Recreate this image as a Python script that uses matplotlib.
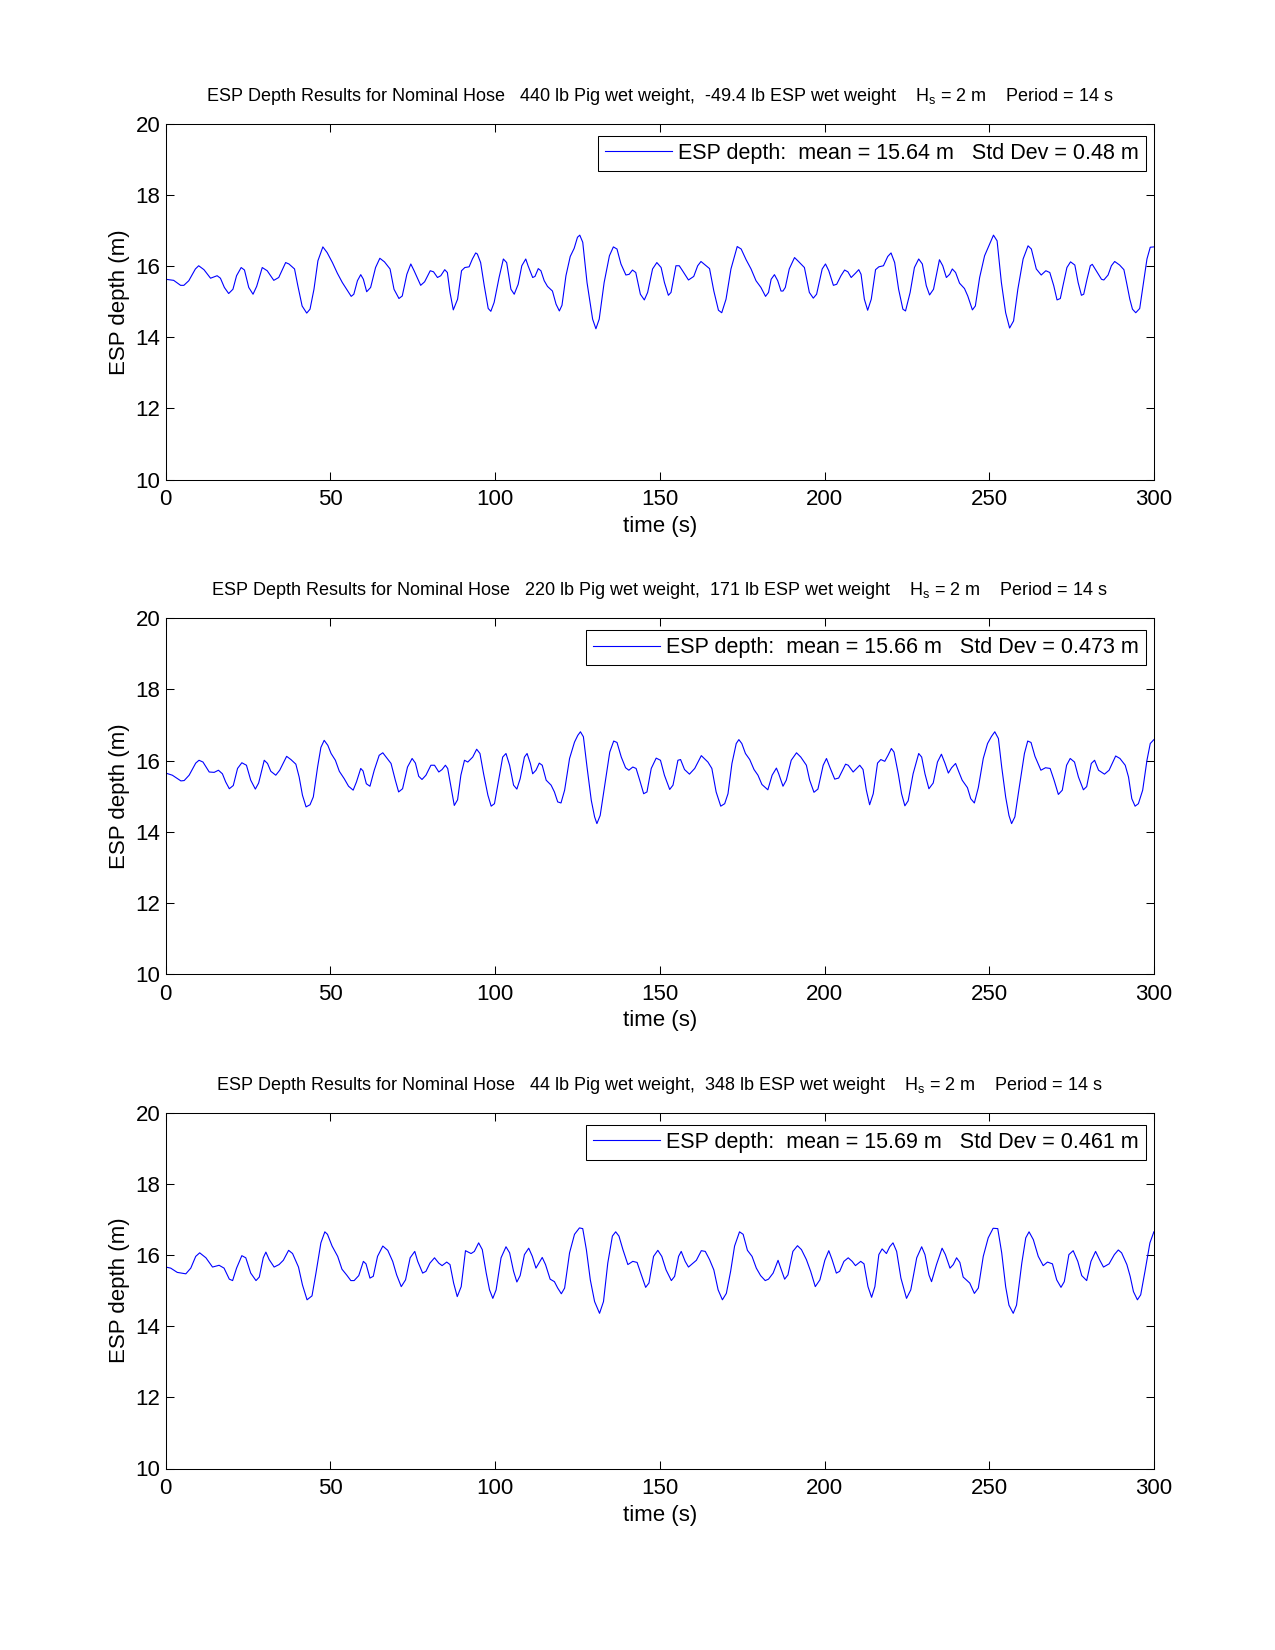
import matplotlib
matplotlib.use("Agg")
import matplotlib.pyplot as plt
import numpy as np

plt.rcParams["font.family"] = "Liberation Sans"
plt.rcParams["mathtext.fontset"] = "custom"
plt.rcParams["mathtext.rm"] = "Liberation Sans"
plt.rcParams["axes.linewidth"] = 0.75

# ---- data: time (s), ESP depth (m) ----
t1 = [0, 2.4, 4.5, 5.5, 7.0, 9.0, 10.0, 11.6, 13.6, 15.6, 16.6, 17.8, 19.1, 20.4, 21.5, 22.9, 23.9,
      25.2, 26.5, 27.6, 29.3, 30.8, 32.8, 34.3, 36.4, 37.4, 39.1, 40.1, 41.4, 42.8, 43.8, 45.0, 46.2,
      47.7, 49.0, 50.6, 52.1, 53.6, 54.9, 56.3, 57.1, 58.2, 59.2, 60.0, 61.0, 62.2, 63.7, 65.0, 66.4,
      68.1, 69.3, 70.8, 71.8, 73.2, 74.4, 75.4, 77.4, 78.6, 80.3, 81.3, 82.5, 83.5, 84.7, 85.5, 86.3,
      87.3, 88.6, 89.8, 90.8, 92.1, 93.1, 94.1, 94.6, 95.6, 96.7, 97.9, 98.7, 99.7, 101.2, 102.5, 103.5,
      104.8, 105.8, 107.0, 108.1, 109.3, 110.0, 111.4, 112.1, 113.1, 113.9, 114.9, 115.9, 117.4, 118.5,
      119.5, 120.3, 121.5, 122.8, 124.0, 125.0, 125.7, 126.6, 127.9, 129.6, 130.6, 131.6, 133.1, 134.7,
      135.9, 137.0, 138.2, 139.7, 140.7, 141.7, 142.7, 144.1, 145.3, 146.3, 147.8, 149.1, 150.4, 151.4,
      152.6, 153.4, 154.9, 155.9, 156.9, 158.7, 160.3, 161.5, 162.5, 165.1, 166.4, 167.8, 168.8, 170.1,
      171.6, 173.5, 174.7, 176.2, 177.7, 179.2, 180.7, 182.1, 183.0, 183.8, 184.8, 185.8, 186.8, 187.4,
      188.1, 189.3, 190.9, 191.9, 193.9, 195.4, 196.6, 197.6, 199.3, 200.3, 201.3, 202.7, 203.7, 205.0,
      206.1, 207.1, 208.1, 209.4, 210.4, 211.1, 212.1, 213.1, 214.2, 215.5, 216.5, 217.9, 219.2, 220.2,
      221.3, 222.5, 223.8, 224.6, 226.0, 227.3, 228.6, 229.7, 230.9, 231.9, 233.1, 234.9, 235.9, 237.0,
      238.0, 238.8, 239.8, 241.0, 242.5, 243.5, 244.9, 245.8, 247.1, 248.6, 249.9, 251.3, 252.4, 253.7,
      255.0, 256.2, 257.4, 258.7, 260.3, 261.8, 262.8, 264.3, 265.8, 267.2, 268.4, 269.6, 270.6, 271.6,
      272.4, 273.6, 274.7, 276.0, 277.0, 278.0, 278.7, 279.7, 280.7, 281.3, 282.5, 284.1, 284.8, 286.1,
      287.1, 288.1, 289.6, 290.9, 291.7, 292.7, 293.5, 294.5, 295.7, 296.7, 297.9, 298.9, 300]
d1 = [15.63, 15.60, 15.46, 15.46, 15.59, 15.92, 16.01, 15.90, 15.66, 15.73, 15.66, 15.40, 15.23, 15.35,
      15.73, 15.96, 15.89, 15.40, 15.21, 15.43, 15.96, 15.87, 15.60, 15.68, 16.10, 16.06, 15.92, 15.45,
      14.88, 14.68, 14.79, 15.35, 16.15, 16.54, 16.38, 16.10, 15.80, 15.54, 15.35, 15.15, 15.21, 15.59,
      15.76, 15.63, 15.28, 15.40, 15.96, 16.22, 16.12, 15.92, 15.35, 15.09, 15.16, 15.77, 16.06, 15.87,
      15.46, 15.56, 15.87, 15.84, 15.68, 15.73, 15.90, 15.82, 15.26, 14.77, 15.07, 15.87, 15.96, 15.98,
      16.20, 16.37, 16.34, 16.10, 15.45, 14.81, 14.73, 14.98, 15.68, 16.20, 16.10, 15.35, 15.21, 15.49,
      16.01, 16.20, 16.01, 15.68, 15.71, 15.93, 15.87, 15.59, 15.43, 15.30, 14.93, 14.74, 14.90, 15.73,
      16.27, 16.50, 16.81, 16.87, 16.67, 15.54, 14.51, 14.24, 14.51, 15.54, 16.29, 16.54, 16.48, 16.06,
      15.75, 15.77, 15.89, 15.82, 15.21, 15.05, 15.26, 15.92, 16.10, 15.96, 15.54, 15.18, 15.26, 16.01,
      16.01, 15.87, 15.61, 15.71, 16.01, 16.13, 15.93, 15.30, 14.76, 14.69, 15.07, 15.92, 16.55, 16.48,
      16.18, 15.92, 15.59, 15.40, 15.15, 15.26, 15.63, 15.76, 15.59, 15.30, 15.30, 15.40, 15.92, 16.24,
      16.15, 15.96, 15.26, 15.10, 15.21, 15.92, 16.06, 15.87, 15.46, 15.49, 15.73, 15.89, 15.84, 15.68,
      15.80, 15.90, 15.77, 15.07, 14.76, 15.07, 15.90, 15.98, 16.01, 16.27, 16.37, 16.10, 15.35, 14.79,
      14.74, 15.26, 15.96, 16.20, 16.06, 15.45, 15.19, 15.35, 16.18, 16.01, 15.68, 15.77, 15.92, 15.82,
      15.52, 15.37, 15.16, 14.77, 14.88, 15.68, 16.29, 16.57, 16.87, 16.71, 15.54, 14.69, 14.26, 14.46,
      15.35, 16.20, 16.57, 16.48, 15.92, 15.75, 15.87, 15.82, 15.45, 15.05, 15.09, 15.45, 15.96, 16.12,
      16.03, 15.54, 15.18, 15.21, 15.63, 16.01, 16.05, 15.87, 15.63, 15.61, 15.75, 16.01, 16.13, 16.03,
      15.90, 15.54, 15.07, 14.79, 14.69, 14.81, 15.45, 16.20, 16.53, 16.54]

t2 = [0, 2.0, 4.6, 5.6, 7.1, 9.1, 10.1, 11.3, 13.2, 14.7, 16.0, 17.2, 18.2, 19.3, 20.5, 21.8, 23.1,
      24.5, 25.8, 27.2, 28.2, 29.9, 30.9, 31.9, 33.4, 34.6, 36.7, 38.0, 39.5, 40.5, 41.5, 42.6, 43.8,
      44.8, 46.1, 47.1, 48.1, 49.2, 50.2, 51.5, 52.7, 54.2, 55.5, 56.9, 57.9, 59.2, 59.9, 60.9, 62.0,
      63.3, 64.8, 65.9, 66.9, 68.4, 69.7, 70.7, 71.9, 73.4, 74.8, 75.8, 76.8, 77.8, 79.0, 80.5, 81.6,
      82.9, 83.9, 84.9, 85.6, 86.6, 87.6, 88.6, 89.6, 90.7, 91.7, 93.2, 94.4, 95.4, 96.5, 97.8, 98.8,
      99.8, 100.8, 102.3, 103.3, 104.4, 105.6, 106.6, 107.6, 108.9, 109.7, 110.7, 111.4, 112.4, 113.4,
      114.3, 115.5, 117.0, 118.0, 119.0, 120.0, 121.1, 122.6, 124.1, 125.1, 125.9, 126.8, 127.9, 129.2,
      130.2, 130.9, 131.9, 133.2, 134.8, 136.0, 137.0, 138.3, 139.6, 140.6, 141.8, 142.8, 143.9, 145.1,
      146.1, 147.4, 148.9, 150.2, 151.4, 153.0, 154.0, 155.5, 156.3, 157.5, 159.0, 160.6, 162.6, 164.6,
      165.8, 167.1, 168.5, 169.7, 170.7, 171.9, 173.2, 174.0, 174.9, 176.0, 177.3, 178.6, 179.8, 181.0,
      182.8, 184.1, 185.4, 186.1, 187.4, 188.4, 189.9, 191.5, 192.8, 194.5, 195.5, 196.8, 198.0, 199.6,
      200.6, 201.6, 203.1, 204.3, 206.4, 207.2, 208.7, 210.7, 211.7, 212.7, 213.7, 214.8, 216.1, 217.1,
      218.3, 219.3, 220.3, 221.1, 222.4, 223.4, 224.4, 225.4, 226.9, 228.6, 229.5, 230.5, 231.7, 233.0,
      234.3, 235.5, 236.6, 237.6, 238.6, 239.8, 240.8, 241.8, 243.4, 244.4, 245.5, 246.7, 248.2, 249.5,
      250.7, 251.7, 252.8, 253.8, 255.0, 256.0, 256.8, 257.8, 259.0, 260.7, 261.7, 262.7, 263.9, 265.7,
      267.1, 268.5, 269.7, 271.0, 272.2, 273.5, 274.6, 275.9, 277.1, 278.6, 279.6, 281.0, 282.0, 283.2,
      285.0, 286.4, 288.4, 289.7, 291.3, 292.3, 293.3, 294.3, 295.3, 296.6, 297.9, 298.9, 300]
d2 = [15.65, 15.59, 15.43, 15.44, 15.59, 15.93, 16.01, 15.96, 15.68, 15.67, 15.73, 15.63, 15.40, 15.21,
      15.30, 15.78, 15.94, 15.87, 15.45, 15.20, 15.37, 16.01, 15.92, 15.70, 15.59, 15.73, 16.12, 16.03,
      15.90, 15.54, 15.03, 14.70, 14.76, 14.98, 15.82, 16.37, 16.57, 16.43, 16.20, 16.01, 15.70, 15.49,
      15.28, 15.17, 15.40, 15.78, 15.71, 15.35, 15.28, 15.73, 16.15, 16.22, 16.10, 15.92, 15.45, 15.12,
      15.21, 15.82, 16.06, 15.93, 15.56, 15.47, 15.59, 15.87, 15.87, 15.68, 15.75, 15.87, 15.78, 15.26,
      14.74, 14.90, 15.59, 16.01, 15.96, 16.10, 16.32, 16.20, 15.63, 15.03, 14.72, 14.79, 15.31, 16.10,
      16.20, 15.87, 15.31, 15.20, 15.49, 16.10, 16.20, 15.92, 15.63, 15.73, 15.93, 15.87, 15.45, 15.31,
      15.12, 14.84, 14.81, 15.17, 16.06, 16.52, 16.71, 16.81, 16.67, 15.82, 14.88, 14.42, 14.23, 14.46,
      15.26, 16.24, 16.55, 16.51, 16.10, 15.80, 15.73, 15.82, 15.78, 15.45, 15.07, 15.12, 15.78, 16.07,
      16.01, 15.59, 15.19, 15.31, 16.01, 16.03, 15.75, 15.62, 15.78, 16.14, 15.96, 15.78, 15.12, 14.72,
      14.79, 15.07, 15.92, 16.48, 16.59, 16.48, 16.20, 16.03, 15.75, 15.59, 15.33, 15.18, 15.59, 15.79,
      15.63, 15.28, 15.45, 16.01, 16.22, 16.10, 15.87, 15.45, 15.11, 15.20, 15.87, 16.06, 15.82, 15.48,
      15.51, 15.90, 15.87, 15.68, 15.87, 15.75, 15.17, 14.76, 15.07, 15.93, 16.03, 15.98, 16.15, 16.34,
      16.24, 15.63, 15.07, 14.73, 14.87, 15.63, 16.20, 16.10, 15.63, 15.21, 15.37, 15.96, 16.18, 15.92,
      15.65, 15.80, 15.92, 15.68, 15.45, 15.24, 14.93, 14.81, 15.24, 16.06, 16.48, 16.68, 16.81, 16.62,
      15.82, 14.98, 14.46, 14.23, 14.42, 15.17, 16.20, 16.55, 16.51, 16.12, 15.73, 15.80, 15.78, 15.45,
      15.05, 15.17, 15.87, 16.06, 15.96, 15.54, 15.18, 15.27, 15.92, 16.01, 15.73, 15.62, 15.73, 16.13,
      16.06, 15.87, 15.54, 14.93, 14.72, 14.79, 15.17, 16.01, 16.48, 16.59]

t3 = [0, 1.5, 3.5, 6.1, 7.6, 9.1, 10.3, 12.2, 14.2, 16.2, 17.7, 19.3, 20.3, 21.5, 23.1, 24.3, 25.8,
      27.4, 28.4, 29.6, 30.4, 31.4, 32.9, 34.4, 35.7, 37.3, 38.5, 40.3, 41.5, 42.9, 44.4, 45.6, 47.1,
      48.3, 49.1, 50.5, 52.2, 53.5, 54.9, 56.2, 57.2, 58.6, 60.0, 60.8, 62.0, 63.0, 64.3, 65.9, 67.4,
      68.9, 70.1, 71.5, 72.8, 74.2, 75.6, 76.5, 78.0, 79.0, 80.2, 81.6, 82.9, 83.9, 85.3, 86.3, 87.4,
      88.5, 89.7, 91.0, 92.7, 93.7, 95.0, 96.1, 97.3, 98.3, 99.3, 100.3, 101.8, 103.3, 104.4, 105.6,
      106.6, 107.6, 108.9, 110.2, 111.3, 112.4, 113.3, 114.3, 115.3, 116.7, 118.0, 119.0, 120.1, 121.1,
      122.6, 124.1, 125.6, 126.6, 127.7, 128.9, 130.2, 131.7, 132.9, 134.2, 135.6, 136.6, 137.6, 138.8,
      140.3, 141.8, 143.1, 144.4, 145.7, 146.7, 148.1, 149.4, 150.6, 151.9, 153.5, 154.5, 155.7, 156.5,
      157.7, 158.7, 161.1, 162.6, 163.8, 165.1, 166.4, 167.7, 169.0, 170.2, 171.5, 172.7, 174.2, 175.3,
      176.6, 178.0, 179.3, 180.6, 182.0, 183.0, 184.4, 185.9, 186.9, 187.9, 188.9, 190.4, 191.8, 193.0,
      194.5, 195.8, 197.2, 198.6, 200.1, 201.3, 202.3, 203.6, 204.6, 205.9, 207.2, 208.4, 209.4, 211.0,
      212.0, 213.2, 214.3, 215.3, 216.5, 217.5, 218.8, 219.8, 220.8, 221.9, 223.2, 224.9, 226.2, 228.0,
      229.5, 230.5, 231.7, 232.5, 234.0, 235.7, 236.7, 238.1, 239.1, 240.1, 241.1, 242.1, 244.1, 245.5,
      246.7, 248.2, 249.7, 251.2, 252.6, 253.8, 255.0, 256.0, 257.3, 258.3, 259.9, 261.1, 262.1, 263.4,
      264.9, 266.4, 267.7, 269.2, 270.5, 271.8, 272.8, 274.2, 275.5, 276.9, 278.1, 279.6, 280.9, 282.3,
      283.6, 284.7, 286.4, 288.0, 289.2, 290.2, 291.8, 292.8, 293.8, 295.0, 296.0, 297.3, 298.8, 300]
d3 = [15.66, 15.63, 15.51, 15.47, 15.63, 15.96, 16.06, 15.92, 15.66, 15.71, 15.63, 15.32, 15.28, 15.63,
      15.98, 15.92, 15.49, 15.28, 15.38, 15.92, 16.08, 15.87, 15.66, 15.73, 15.85, 16.13, 16.04, 15.66,
      15.16, 14.74, 14.85, 15.49, 16.34, 16.65, 16.58, 16.25, 15.96, 15.60, 15.44, 15.28, 15.28, 15.42,
      15.82, 15.75, 15.35, 15.40, 15.96, 16.25, 16.13, 15.82, 15.44, 15.11, 15.30, 15.92, 16.10, 15.82,
      15.49, 15.54, 15.77, 15.92, 15.77, 15.70, 15.80, 15.73, 15.21, 14.83, 15.11, 16.12, 16.04, 16.10,
      16.34, 16.15, 15.49, 15.02, 14.78, 15.02, 15.92, 16.23, 16.06, 15.54, 15.24, 15.42, 16.01, 16.19,
      15.96, 15.63, 15.77, 15.93, 15.73, 15.32, 15.25, 15.07, 14.91, 15.07, 16.06, 16.58, 16.76, 16.74,
      16.15, 15.30, 14.69, 14.36, 14.69, 15.77, 16.53, 16.65, 16.53, 16.15, 15.73, 15.82, 15.79, 15.44,
      15.09, 15.21, 15.96, 16.13, 15.96, 15.58, 15.28, 15.40, 15.96, 16.10, 15.82, 15.66, 15.85, 16.12,
      16.10, 15.87, 15.58, 15.02, 14.74, 14.92, 15.54, 16.25, 16.65, 16.58, 16.13, 15.96, 15.63, 15.42,
      15.28, 15.32, 15.49, 15.85, 15.58, 15.32, 15.44, 16.10, 16.26, 16.15, 15.87, 15.54, 15.11, 15.30,
      15.85, 16.12, 15.87, 15.49, 15.54, 15.82, 15.92, 15.82, 15.70, 15.82, 15.75, 15.11, 14.81, 15.11,
      16.01, 16.17, 16.04, 16.23, 16.34, 16.10, 15.35, 14.78, 15.02, 15.92, 16.23, 16.01, 15.44, 15.25,
      15.73, 16.19, 16.01, 15.63, 15.73, 15.92, 15.79, 15.38, 15.21, 14.92, 15.07, 15.96, 16.48, 16.75,
      16.74, 16.06, 15.11, 14.59, 14.36, 14.59, 15.77, 16.48, 16.65, 16.43, 15.96, 15.70, 15.80, 15.75,
      15.30, 15.09, 15.25, 16.01, 16.12, 15.82, 15.42, 15.28, 15.82, 16.10, 15.85, 15.66, 15.75, 16.01,
      16.14, 16.06, 15.73, 15.40, 14.97, 14.74, 14.88, 15.54, 16.34, 16.65]

titles = [
    "ESP Depth Results for Nominal Hose   440 lb Pig wet weight,  -49.4 lb ESP wet weight    "
    r"$\mathrm{H_s}$ = 2 m    Period = 14 s",
    "ESP Depth Results for Nominal Hose   220 lb Pig wet weight,  171 lb ESP wet weight    "
    r"$\mathrm{H_s}$ = 2 m    Period = 14 s",
    "ESP Depth Results for Nominal Hose   44 lb Pig wet weight,  348 lb ESP wet weight    "
    r"$\mathrm{H_s}$ = 2 m    Period = 14 s",
]
legends = [
    "ESP depth:  mean = 15.64 m   Std Dev = 0.48 m",
    "ESP depth:  mean = 15.66 m   Std Dev = 0.473 m",
    "ESP depth:  mean = 15.69 m   Std Dev = 0.461 m",
]
series = [(t1, d1), (t2, d2), (t3, d3)]
bottoms = [0.7093, 0.4096, 0.11]

fig = plt.figure(figsize=(12.75, 16.5), dpi=100)

for i in range(3):
    ax = fig.add_axes([0.13, bottoms[i], 0.775, 0.2157])
    t, d = series[i]
    ax.plot(t, d, color=(0, 0, 1), linewidth=0.8, label=legends[i])
    ax.set_xlim([0, 300])
    ax.set_ylim([10, 20])
    ax.set_xticks(np.arange(0, 301, 50))
    ax.set_yticks(np.arange(10, 21, 2))
    ax.tick_params(direction='in', top=True, right=True, length=6, width=0.75,
                   labelsize=16)
    ax.tick_params(axis='x', pad=7)
    ax.tick_params(axis='y', pad=4)
    ax.set_xlabel('time (s)', fontsize=16, labelpad=4)
    ax.set_ylabel('ESP depth (m)', fontsize=16, labelpad=4)
    ax.set_title(titles[i], fontsize=13, pad=16.5)
    leg = ax.legend(loc='upper right', bbox_to_anchor=(1 - 8 / 987.0, 1 - 12 / 356.0),
                    borderaxespad=0, fontsize=15.5, fancybox=False, framealpha=1,
                    edgecolor='black', handlelength=3.1, handletextpad=0.3, borderpad=0.33)
    leg.get_frame().set_linewidth(0.75)

fig.savefig('out.png', dpi=100)
